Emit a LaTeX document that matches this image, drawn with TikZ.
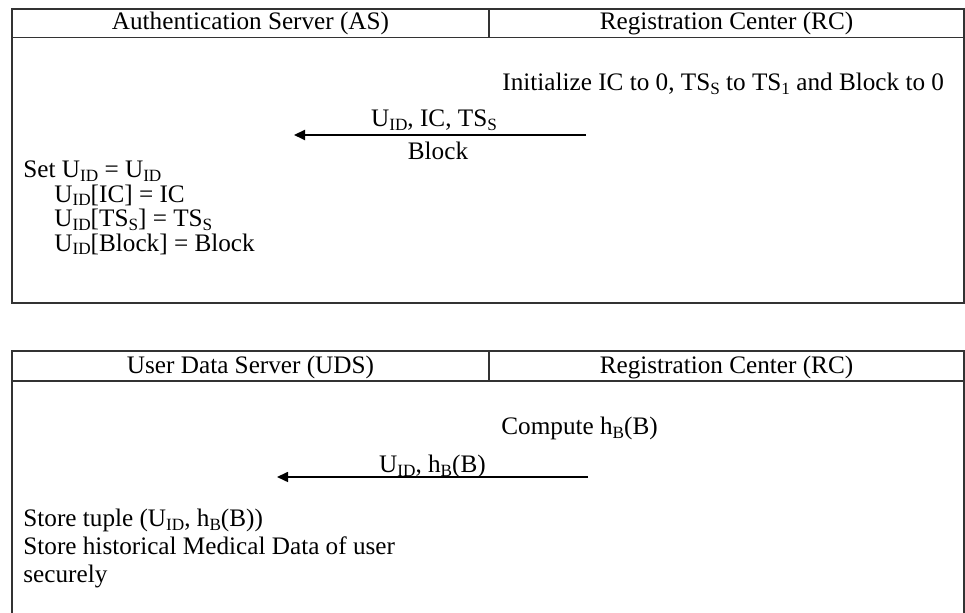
\documentclass[tikz,border=0pt]{standalone}
\usepackage{fontspec}
\setmainfont{Liberation Serif}
\usetikzlibrary{arrows.meta}
% word-processor style subscript: two thirds size, slightly lowered
\newcommand{\lsub}[1]{\raisebox{-0.12em}{\fontsize{8.6}{9}\selectfont #1}}
\begin{document}
\begin{tikzpicture}[x=0.5pt,y=-0.5pt,
  frame/.style={draw=black!80, line width=0.75pt},
  txt/.style={inner sep=0pt, font=\fontsize{12.6}{15}\selectfont},
  msg/.style={draw=black, line width=1pt, -{Triangle[length=5.5pt,width=5pt]}}]
\useasboundingbox (0,0) rectangle (965,613);

% ---- Authentication Server / Registration Center exchange ----
\draw[frame] (12,9) rectangle (964,303);
\draw[frame] (12,37.5) -- (964,37.5);
\draw[frame] (489,9) -- (489,37.5);

\node[txt, anchor=base] (hAS) at (250.5,30) {Authentication Server (AS)};
\node[txt, anchor=base] (hRC1) at (726.5,30) {Registration Center (RC)};

\node[txt, anchor=base west] (init) at (502,91)
  {Initialize IC to 0, TS\lsub{S} to TS\lsub{1} and Block to 0};

\coordinate (rc1) at (586,135);
\coordinate (as1) at (294,135);
\draw[msg] (rc1) -- (as1);
\node[txt, anchor=base] (m1a) at (434,127) {U\lsub{ID}, IC, TS\lsub{S}};
\node[txt, anchor=base] (m1b) at (438,160) {Block};

\node[txt, anchor=base west] (set0) at (23,178) {Set U\lsub{ID} = U\lsub{ID}};
\node[txt, anchor=base west] (set1) at (54,202.5) {U\lsub{ID}[IC] = IC};
\node[txt, anchor=base west] (set2) at (54,227) {U\lsub{ID}[TS\lsub{S}] = TS\lsub{S}};
\node[txt, anchor=base west] (set3) at (54,251.5) {U\lsub{ID}[Block] = Block};

% ---- User Data Server / Registration Center exchange ----
\draw[frame] (12,616) -- (12,351) -- (964,351) -- (964,616);
\draw[frame] (12,381) -- (964,381);
\draw[frame] (489,351) -- (489,381);

\node[txt, anchor=base] (hUDS) at (250.5,374) {User Data Server (UDS)};
\node[txt, anchor=base] (hRC2) at (726.5,374) {Registration Center (RC)};

\node[txt, anchor=base west] (comp) at (501,435) {Compute h\lsub{B}(B)};

\coordinate (rc2) at (588,477);
\coordinate (uds2) at (277,477);
\draw[msg, line width=0.8pt] (rc2) -- (uds2);
\node[txt, anchor=base] (m2) at (432.5,473) {U\lsub{ID}, h\lsub{B}(B)};

\node[txt, anchor=base west] (st1) at (23,527) {Store tuple (U\lsub{ID}, h\lsub{B}(B))};
\node[txt, anchor=base west] (st2) at (23,555) {Store historical Medical Data of user};
\node[txt, anchor=base west] (st3) at (23,583) {securely};
\end{tikzpicture}
\end{document}
